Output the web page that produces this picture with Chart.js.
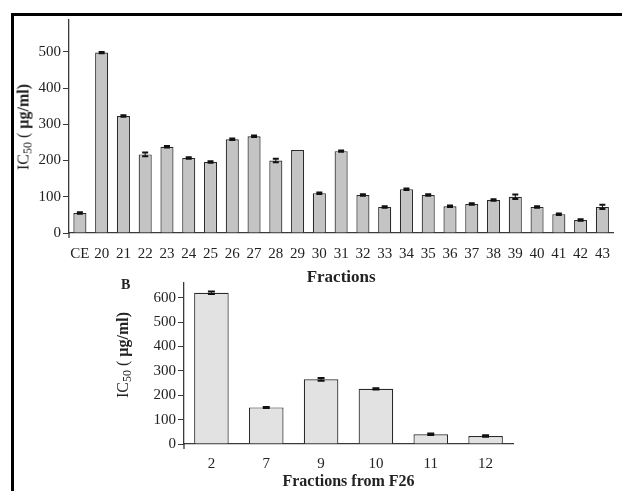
<!DOCTYPE html>
<html>
<head>
<meta charset="utf-8">
<script src="https://cdn.jsdelivr.net/npm/chart.js@4.4.1/dist/chart.umd.min.js"></script>
<style>
    html, body { margin: 0; padding: 0; background: #fff; }
    #page { position: relative; width: 622px; height: 491px; overflow: hidden; }
    #frame { position: absolute; left: 11px; top: 13px; width: 640px; height: 500px;
             border-top: 3px solid #000; border-left: 3px solid #000; }
    canvas { position: absolute; left: 0; }
    #topChart { top: 0; }
    #botChart { top: 270px; }
    .ytitle { position: absolute; font-family: 'Liberation Serif', 'Times New Roman', serif;
              font-size: 16px; color: #222; white-space: nowrap;
              transform: translate(-50%, -50%) rotate(-90deg); }
    .ytitle sub { font-size: 12px; vertical-align: -3px; }
    #panelB { position: absolute; left: 121px; top: 277px; font: bold 14px 'Liberation Serif', serif; color: #222; }
</style>
</head>
<body>
<div id="page">
    <div id="frame"></div>
    <canvas id="topChart" width="622" height="290"></canvas>
    <canvas id="botChart" width="622" height="221"></canvas>
    <div class="ytitle" style="left:25px; top:127px;">IC<sub>50</sub> ( <b>µg/ml)</b></div>
    <div class="ytitle" style="left:124px; top:355px;">IC<sub>50</sub> ( <b>µg/ml)</b></div>
    <div id="panelB">B</div>
</div>
<script>
// Panel A: crude extract + fractions 20-43
const fractionLabels = ['CE', '20', '21', '22', '23', '24', '25', '26', '27', '28', '29', '30', '31',
                        '32', '33', '34', '35', '36', '37', '38', '39', '40', '41', '42', '43'];
const fractionIC50 = [55, 498, 323, 217, 238, 207, 196, 259, 267, 200, 229, 110, 226,
                      105, 72, 121, 105, 74, 80, 91, 100, 72, 52, 36, 72];
const fractionErr = [2, 2, 2, 5, 2, 2, 2, 2, 2, 5, 0, 2, 2,
                     2, 2, 2, 2, 2, 2, 2, 6, 2, 2, 2, 6];

// Panel B: sub-fractions of F26
const subLabels = ['2', '7', '9', '10', '11', '12'];
const subIC50 = [620, 150, 265, 226, 40, 33];
const subErr = [5, 2, 6, 3, 3, 3];

const colors = {
    barA: '#c4c4c4',
    barB: '#e2e2e2',
    barEdge: '#2a2a2a',
    axis: '#3a3a3a',
    text: '#222'
};
const serif = "'Liberation Serif', 'Times New Roman', serif";

// draws mean +/- error whiskers on top of bars
const errorBars = {
    id: 'errorBars',
    afterDatasetsDraw(chart, args, opts) {
        const { ctx } = chart;
        const y = chart.scales.y;
        const vals = chart.data.datasets[0].data;
        const meta = chart.getDatasetMeta(0);
        ctx.save();
        ctx.strokeStyle = '#111';
        meta.data.forEach((bar, i) => {
            const e = opts.errors[i];
            if (!e) return;
            const hi = y.getPixelForValue(vals[i] + e);
            const lo = y.getPixelForValue(vals[i] - e);
            const w = opts.cap / 2;
            ctx.lineWidth = 1;
            ctx.beginPath();
            ctx.moveTo(bar.x, hi); ctx.lineTo(bar.x, lo);
            ctx.stroke();
            ctx.lineWidth = 2;
            ctx.beginPath();
            ctx.moveTo(bar.x - w, hi); ctx.lineTo(bar.x + w, hi);
            ctx.moveTo(bar.x - w, lo); ctx.lineTo(bar.x + w, lo);
            ctx.stroke();
        });
        // y axis runs a few px past the baseline, like the original
        const { left, bottom } = chart.chartArea;
        ctx.strokeStyle = colors.axis;
        ctx.lineWidth = 1.3;
        ctx.beginPath();
        ctx.moveTo(left, bottom); ctx.lineTo(left, bottom + 5);
        ctx.stroke();
        ctx.restore();
    }
};

function makeChart(id, labels, values, errors, cfg) {
    const ctx = document.getElementById(id).getContext('2d');
    return new Chart(ctx, {
        type: 'bar',
        data: {
            labels,
            datasets: [{
                data: values,
                backgroundColor: cfg.fill,
                borderColor: colors.barEdge,
                borderWidth: 1.2,
                borderSkipped: 'bottom',
                barPercentage: cfg.barPct,
                categoryPercentage: 1
            }]
        },
        options: {
            responsive: false,
            animation: false,
            layout: { padding: cfg.padding },
            plugins: {
                legend: { display: false },
                tooltip: { enabled: false },
                errorBars: { errors, cap: cfg.cap }
            },
            scales: {
                x: {
                    offset: true,
                    grid: { display: false, drawTicks: false },
                    border: { display: true, color: colors.axis, width: 1.3 },
                    ticks: { color: colors.text, font: { family: serif, size: 15 }, padding: cfg.xPad, maxRotation: 0, autoSkip: false },
                    title: { display: true, text: cfg.xTitle, color: colors.text,
                             font: { family: serif, size: cfg.xTitleSize, weight: 'bold' },
                             padding: { top: 0, bottom: cfg.xTitlePad } },
                    afterFit: (s) => { s.height = cfg.xHeight; }
                },
                y: {
                    min: 0,
                    max: cfg.yMax,
                    grid: { display: true, drawOnChartArea: false, drawTicks: true, tickLength: 6, color: colors.axis },
                    border: { display: true, color: colors.axis, width: 1.3 },
                    ticks: { stepSize: 100, includeBounds: false, color: colors.text, font: { family: serif, size: 15 }, padding: 2 },
                    afterFit: (s) => { s.width = cfg.yWidth; }
                }
            }
        },
        plugins: [errorBars]
    });
}

makeChart('topChart', fractionLabels, fractionIC50, fractionErr, {
    fill: colors.barA, barPct: 0.6, cap: 6,
    padding: { top: 20, right: 6, left: 0, bottom: 0 },
    yMax: 588, yWidth: 69, xHeight: 57, xPad: 12,
    xTitle: 'Fractions', xTitleSize: 17, xTitlePad: 2
});

makeChart('botChart', subLabels, subIC50, subErr, {
    fill: colors.barB, barPct: 0.63, cap: 7,
    padding: { top: 13, right: 109, left: 0, bottom: 0 },
    yMax: 660, yWidth: 184, xHeight: 47, xPad: 11,
    xTitle: 'Fractions from F26', xTitleSize: 16, xTitlePad: 0
});
</script>
</body>
</html>
